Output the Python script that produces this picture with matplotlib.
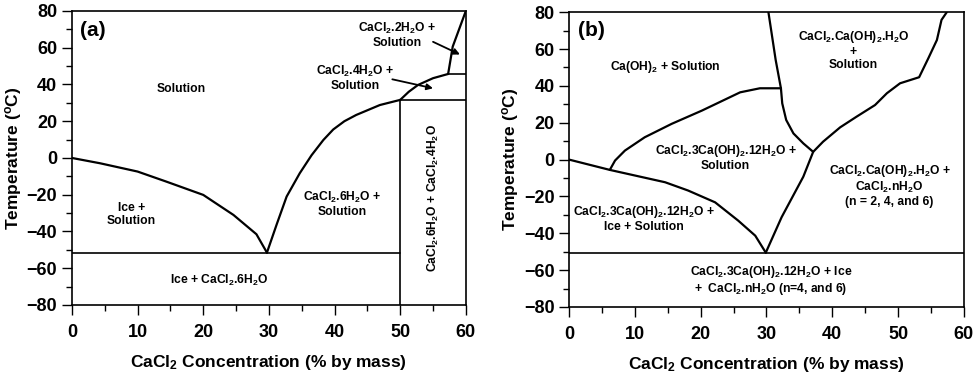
import matplotlib
matplotlib.use("Agg")
import matplotlib.pyplot as plt
from matplotlib.ticker import MultipleLocator

plt.rcParams['font.family'] = ['Liberation Sans', 'DejaVu Sans']
plt.rcParams['font.weight'] = 'bold'
plt.rcParams['mathtext.fontset'] = 'custom'
plt.rcParams['mathtext.bf'] = 'Liberation Sans:bold'
plt.rcParams['mathtext.rm'] = 'Liberation Sans:bold'
plt.rcParams['mathtext.it'] = 'Liberation Sans:bold'
plt.rcParams['mathtext.default'] = 'bf'

# ---------------- Panel (a) data ----------------
ice_a_x = [0, 4.3, 10, 14.4, 20, 24.6, 28.1, 29.7]
ice_a_t = [0, -2.9, -7.4, -12.9, -20.1, -31, -41.5, -51.5]
hexa_x = [29.7, 31.2, 32.7, 34.7, 36.5, 38.3, 39.8, 41.5, 43.3, 46.9, 50]
hexa_t = [-51.5, -36, -21, -8.3, 1.5, 9.8, 15.5, 20.0, 23.4, 28.8, 31.6]
tetra_x = [50, 51.3, 52.7, 55, 57.3]
tetra_t = [31.6, 36.0, 39.7, 43.4, 45.7]
di_x = [57.3, 58, 60]
di_t = [45.7, 60.6, 80]
eut_a_x = [0, 50]
eut_a_t = [-51.5, -51.5]
vert_a_x = [50, 50]
vert_a_t = [-80, 31.6]
h6h4_x = [50, 60]
h6h4_t = [31.6, 31.6]
h4h2_x = [57.3, 60]
h4h2_t = [45.7, 45.7]

# ---------------- Panel (b) data ----------------
ice_b_x = [0, 6.2, 14.6, 18.1, 22.2, 25.7, 28.3, 29.9]
ice_b_t = [0, -5.6, -12.3, -16.8, -23.2, -33.1, -41.3, -50.5]
hyd_b_x = [6.2, 7.0, 8.5, 11.5, 15.6, 20.2, 26.0, 29.0, 32.2]
hyd_b_t = [-5.6, -0.5, 4.9, 12.1, 19.4, 26.6, 36.5, 38.7, 38.7]
top_b_x = [30.3, 31.4, 32.2, 32.4, 33.0, 34.1, 35.6, 37.1]
top_b_t = [80, 54.1, 38.7, 30.5, 21.5, 14.2, 8.8, 4.2]
right_b_x = [29.9, 32.3, 35.6, 37.1, 38.6, 41.2, 43.7, 46.5, 48.3, 50.3, 53.2, 54.6, 55.9, 56.6, 57.4]
right_b_t = [-50.5, -31.3, -9.3, 4.2, 9.7, 17.5, 23.3, 29.6, 36.0, 41.4, 44.7, 55.0, 64.9, 75.8, 80]
eut_b_x = [0, 60]
eut_b_t = [-50.5, -50.5]

fig = plt.figure(figsize=(9.75, 3.77), dpi=100)
ax1 = fig.add_axes([0.0738, 0.191, 0.404, 0.780])
ax2 = fig.add_axes([0.5836, 0.1857, 0.405, 0.782])

lw_curve = 1.6
lw_line = 1.2

def style(ax):
    ax.set_xlim(0, 60)
    ax.set_ylim(-80, 80)
    ax.xaxis.set_major_locator(MultipleLocator(10))
    ax.xaxis.set_minor_locator(MultipleLocator(5))
    ax.yaxis.set_major_locator(MultipleLocator(20))
    ax.yaxis.set_minor_locator(MultipleLocator(10))
    ax.tick_params(which='both', direction='out', top=False, right=False, width=1.0)
    ax.tick_params(which='major', length=7.5, labelsize=13)
    ax.tick_params(which='minor', length=4)
    ax.tick_params(axis='x', which='major', pad=6)
    ax.tick_params(axis='y', which='major', pad=3)
    for lab in ax.get_xticklabels() + ax.get_yticklabels():
        lab.set_fontweight('bold')
    for s in ax.spines.values():
        s.set_linewidth(1.2)
    ax.set_xlabel(r'CaCl$_2$ Concentration (% by mass)', fontsize=12.5, fontweight='bold', labelpad=9)
    ax.set_ylabel(r'Temperature ($^o$C)', fontsize=12.5, fontweight='bold', labelpad=2)

style(ax1)
style(ax2)

# ---- draw panel (a)
k = dict(color='black', solid_capstyle='round', solid_joinstyle='round')
ax1.plot(ice_a_x, ice_a_t, lw=lw_curve, **k)
ax1.plot(hexa_x, hexa_t, lw=lw_curve, **k)
ax1.plot(tetra_x, tetra_t, lw=lw_curve, **k)
ax1.plot(di_x, di_t, lw=lw_curve, **k)
ax1.plot(eut_a_x, eut_a_t, lw=lw_line, **k)
ax1.plot(vert_a_x, vert_a_t, lw=lw_line, **k)
ax1.plot(h6h4_x, h6h4_t, lw=lw_line, **k)
ax1.plot(h4h2_x, h4h2_t, lw=lw_line, **k)

fs = 8.7
ax1.text(3.2, 69.4, '(a)', fontsize=15, fontweight='bold', ha='center', va='center')
ax1.text(16.7, 37.4, 'Solution', fontsize=fs, ha='center', va='center')
ax1.text(9.1, -31, 'Ice +\nSolution', fontsize=fs, ha='center', va='center', linespacing=1.1)
ax1.text(41.2, -25, 'CaCl$_2$.6H$_2$O +\nSolution', fontsize=fs, ha='center', va='center', linespacing=1.1)
ax1.text(22.5, -66.8, 'Ice + CaCl$_2$.6H$_2$O', fontsize=fs, ha='center', va='center')
ax1.text(43.2, 43.4, 'CaCl$_2$.4H$_2$O +\nSolution', fontsize=fs, ha='center', va='center', linespacing=1.1)
ax1.text(49.6, 66.9, 'CaCl$_2$.2H$_2$O +\nSolution', fontsize=fs, ha='center', va='center', linespacing=1.1)
ax1.text(55, -22, 'CaCl$_2$.6H$_2$O + CaCl$_2$.4H$_2$O', fontsize=fs, ha='center', va='center', rotation=90)
arr = dict(arrowstyle='-|>', color='black', lw=1.3, mutation_scale=9, shrinkA=0, shrinkB=0)
ax1.annotate('', xy=(59.1, 56.3), xytext=(55, 63.2), arrowprops=arr)
ax1.annotate('', xy=(55, 37.9), xytext=(48.8, 42.8), arrowprops=arr)

# ---- draw panel (b)
ax2.plot(ice_b_x, ice_b_t, lw=lw_curve, **k)
ax2.plot(hyd_b_x, hyd_b_t, lw=lw_curve, **k)
ax2.plot(top_b_x, top_b_t, lw=lw_curve, **k)
ax2.plot(right_b_x, right_b_t, lw=lw_curve, **k)
ax2.plot(eut_b_x, eut_b_t, lw=lw_line, **k)

ax2.text(3.4, 70, '(b)', fontsize=15, fontweight='bold', ha='center', va='center')
ax2.text(14.6, 50.1, 'Ca(OH)$_2$ + Solution', fontsize=fs, ha='center', va='center')
ax2.text(43.2, 59.5, 'CaCl$_2$.Ca(OH)$_2$.H$_2$O\n+\nSolution', fontsize=fs, ha='center', va='center', linespacing=1.1)
ax2.text(23.8, 1.3, 'CaCl$_2$.3Ca(OH)$_2$.12H$_2$O +\nSolution', fontsize=fs, ha='center', va='center', linespacing=1.1)
ax2.text(48.7, -14.1, 'CaCl$_2$.Ca(OH)$_2$.H$_2$O +\nCaCl$_2$.nH$_2$O\n(n = 2, 4, and 6)', fontsize=fs, ha='center', va='center', linespacing=1.1)
ax2.text(11.4, -32.2, 'CaCl$_2$.3Ca(OH)$_2$.12H$_2$O +\nIce + Solution', fontsize=fs, ha='center', va='center', linespacing=1.1)
ax2.text(30.7, -65.7, 'CaCl$_2$.3Ca(OH)$_2$.12H$_2$O + Ice\n+  CaCl$_2$.nH$_2$O (n=4, and 6)', fontsize=fs, ha='center', va='center', linespacing=1.1)

fig.savefig('out.png', dpi=100)
